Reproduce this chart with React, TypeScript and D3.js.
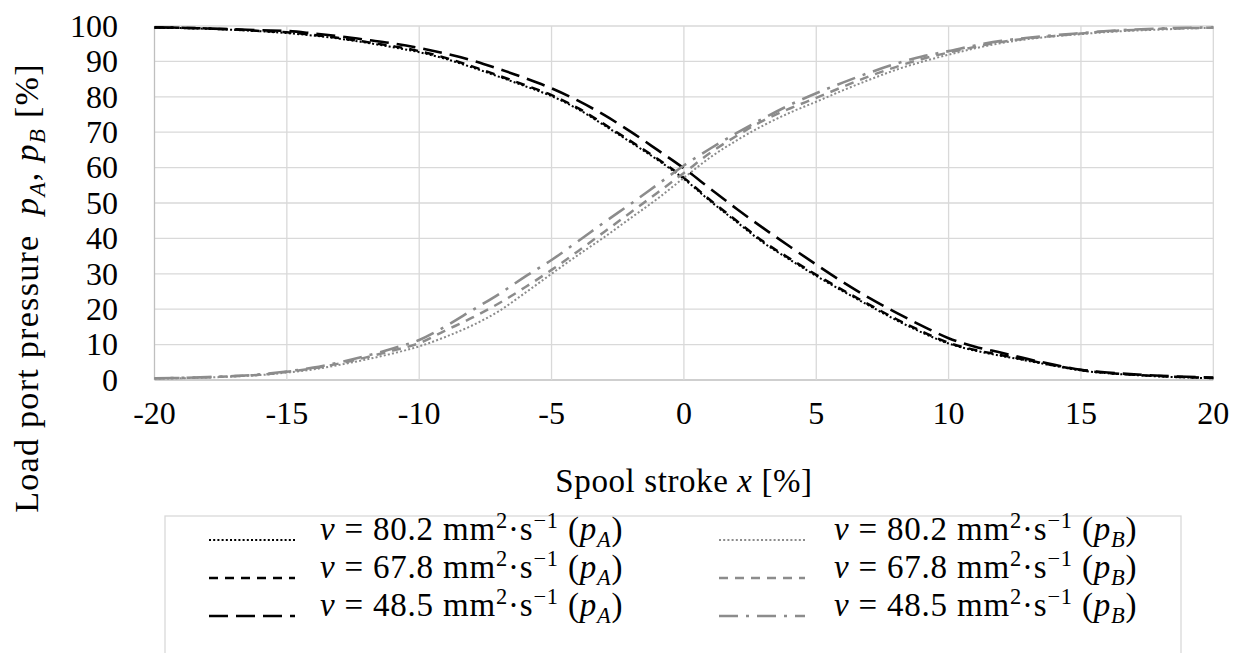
import React from "react";
import * as d3 from "d3";

const strokeX = [-20,-19,-18,-17,-16,-15,-14,-13,-12,-11,-10,-9,-8,-7,-6,-5,-4,-3,-2,-1,0,1,2,3,4,5,6,7,8,9,10,11,12,13,14,15,16,17,18,19,20];

const pA_802 = [99.5,99.4,99.2,98.9,98.5,98.0,97.3,96.4,95.3,94.0,92.6,90.7,88.3,85.7,83.0,80.2,76.5,71.9,67.1,62.2,56.8,50.5,44.6,38.8,34.0,29.4,25.1,21.0,17.0,13.4,10.3,8.3,6.8,5.4,4.0,2.7,1.9,1.4,1.0,0.7,0.5];
const pA_678 = [99.6,99.5,99.3,99.0,98.6,98.2,97.5,96.6,95.5,94.3,92.9,91.0,88.6,86.0,83.3,80.5,76.8,72.2,67.4,62.5,57.1,50.8,44.9,39.1,34.3,29.7,25.4,21.3,17.3,13.7,10.5,8.5,7.0,5.6,4.1,2.8,2.0,1.5,1.1,0.8,0.6];
const pA_485 = [99.6,99.5,99.3,99.1,98.8,98.6,97.9,97.1,96.1,95.1,93.8,92.2,90.3,87.9,85.3,82.4,78.9,74.8,70.1,65.0,59.8,54.0,48.3,42.9,37.7,32.6,27.7,23.2,19.1,15.3,11.8,9.4,7.7,5.9,4.3,2.9,2.1,1.6,1.2,0.9,0.7];
const pB_802 = [0.4,0.5,0.7,1.0,1.4,2.1,3.0,4.3,5.8,7.5,9.5,12.2,15.4,19.4,24.6,30.0,35.3,40.4,45.8,51.2,57.1,62.9,67.7,71.9,75.5,78.6,81.8,84.8,87.6,89.9,91.9,93.7,95.2,96.3,97.1,97.7,98.3,98.7,99.0,99.3,99.5];
const pB_678 = [0.5,0.6,0.8,1.1,1.5,2.3,3.3,4.7,6.4,8.3,10.4,14.0,17.6,21.6,26.2,31.1,36.4,41.9,47.4,52.9,58.5,64.2,69.0,73.3,76.7,79.7,82.8,85.8,88.4,90.7,92.5,94.1,95.5,96.5,97.2,97.9,98.5,98.9,99.2,99.4,99.5];
const pB_485 = [0.5,0.6,0.8,1.1,1.6,2.4,3.5,5.0,6.8,8.9,11.3,15.2,19.7,24.2,29.2,33.9,39.2,44.6,49.8,55.2,60.6,65.4,69.8,73.9,77.7,81.0,84.0,86.8,89.3,91.4,92.9,94.5,95.8,96.7,97.4,98.0,98.6,99.0,99.3,99.5,99.6];

const xTicks = [-20,-15,-10,-5,0,5,10,15,20];
const yTicks = [0,10,20,30,40,50,60,70,80,90,100];
const viscosities = ["80.2","67.8","48.5"];

const W = 1239, H = 653;
const FONT = "'Liberation Serif', 'Times New Roman', serif";
const M = { left: 154.5, right: 1213.3, top: 26, bottom: 380 };
const BLACK = "#000000";
const GRAY = "#8c8c8c";
const GRID = "#d9d9d9";

const styles: Record<string, { dash: string; width: number }> = {
  "80.2": { dash: "2 2.2", width: 2 },
  "67.8": { dash: "9 7", width: 2.5 },
  "48.5": { dash: "19 8", width: 2.6 },
};
const stylesB: Record<string, { dash: string; width: number }> = {
  "80.2": { dash: "2 2.2", width: 2 },
  "67.8": { dash: "9 7", width: 2.5 },
  "48.5": { dash: "19 8 3 8", width: 2.6 },
};

type Part = { t: string; i?: boolean; sup?: boolean; sub?: boolean };

function Rich({ parts, size }: { parts: Part[]; size: number }) {
  let shift = 0;
  const out = parts.map((p, k) => {
    const target = p.sup ? -0.36 * size : p.sub ? 0.2 * size : 0;
    const dy = target - shift;
    shift = target;
    return (
      <tspan key={k} dy={dy} fontStyle={p.i ? "italic" : undefined} fontSize={p.sup || p.sub ? size * 0.68 : undefined}>
        {p.t}
      </tspan>
    );
  });
  return <>{out}</>;
}

export default function App() {
  const x = d3.scaleLinear().domain([-20, 20]).range([M.left, M.right]);
  const y = d3.scaleLinear().domain([0, 100]).range([M.bottom, M.top]);

  const series = [
    { vals: pA_802, color: BLACK, st: styles["80.2"] },
    { vals: pA_678, color: BLACK, st: styles["67.8"] },
    { vals: pA_485, color: BLACK, st: styles["48.5"] },
    { vals: pB_802, color: GRAY, st: stylesB["80.2"] },
    { vals: pB_678, color: GRAY, st: stylesB["67.8"] },
    { vals: pB_485, color: GRAY, st: stylesB["48.5"] },
  ];

  const line = d3
    .line<number>()
    .x((_, i) => x(strokeX[i]))
    .y((d) => y(d))
    .curve(d3.curveMonotoneX);

  const tickSize = 32;
  const legSize = 33;
  const rowY = [540, 578, 616];
  const colSample = [209, 719];
  const colText = [320, 834];

  return (
    <svg width={W} height={H} style={{ position: "absolute", left: 0, top: 0, background: "#fff" }} fontFamily={FONT}>
      <rect width={W} height={H} fill="#fff" />
      {yTicks.map((t) => (
        <line key={"gy" + t} x1={M.left} x2={M.right} y1={y(t)} y2={y(t)} stroke={t === 0 ? "#bfbfbf" : GRID} strokeWidth={1.3} />
      ))}
      {xTicks.map((t) => (
        <line key={"gx" + t} x1={x(t)} x2={x(t)} y1={M.top} y2={M.bottom} stroke={t === -20 ? "#bfbfbf" : GRID} strokeWidth={1.3} />
      ))}
      {yTicks.map((t) => (
        <text key={"yl" + t} x={118} y={y(t)} dy="0.34em" textAnchor="end" fontSize={tickSize} fill="#000">
          {t}
        </text>
      ))}
      {xTicks.map((t) => (
        <text key={"xl" + t} x={x(t)} y={413} dy="0.34em" textAnchor="middle" fontSize={tickSize} fill="#000">
          {t}
        </text>
      ))}
      {series.map((s, i) => (
        <path key={"s" + i} d={line(s.vals) || ""} fill="none" stroke={s.color} strokeWidth={s.st.width} strokeDasharray={s.st.dash} />
      ))}
      <text x={684} y={492} textAnchor="middle" fontSize={33} style={{ whiteSpace: "pre", letterSpacing: "0.6px" }}>
        <Rich size={33} parts={[{ t: "Spool stroke " }, { t: "x", i: true }, { t: " [%]" }]} />
      </text>
      <text transform={`translate(38, 288) rotate(-90)`} textAnchor="middle" fontSize={34} style={{ whiteSpace: "pre", letterSpacing: "1.3px" }}>
        <Rich size={34} parts={[{ t: "Load port pressure  " }, { t: "p", i: true }, { t: "A", i: true, sub: true }, { t: ", " }, { t: "p", i: true }, { t: "B", i: true, sub: true }, { t: " [%]" }]} />
      </text>
      <rect x={165} y={516} width={1181 - 165} height={160} fill="#fff" stroke={GRID} strokeWidth={1.3} />
      {["A", "B"].map((port, c) =>
        viscosities.map((v, r) => {
          const st = port === "A" ? styles[v] : stylesB[v];
          const color = port === "A" ? BLACK : GRAY;
          return (
            <g key={port + v}>
              <line x1={colSample[c]} x2={colSample[c] + 86} y1={rowY[r]} y2={rowY[r]} stroke={color} strokeWidth={st.width} strokeDasharray={st.dash} />
              <text x={colText[c]} y={rowY[r]} dy="0.33em" fontSize={legSize} style={{ whiteSpace: "pre", letterSpacing: "0.8px" }}>
                <Rich
                  size={legSize}
                  parts={[
                    { t: "ν", i: true },
                    { t: " = " + v + " mm" },
                    { t: "2", sup: true },
                    { t: "·s" },
                    { t: "−1", sup: true },
                    { t: " (" },
                    { t: "p", i: true },
                    { t: port, i: true, sub: true },
                    { t: ")" },
                  ]}
                />
              </text>
            </g>
          );
        })
      )}
    </svg>
  );
}
